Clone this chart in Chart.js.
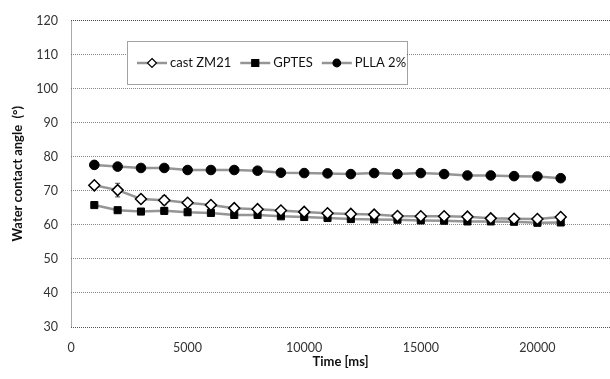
<!DOCTYPE html>
<html>
<head>
<meta charset="utf-8">
<script src="https://cdn.jsdelivr.net/npm/chart.js@4"></script>
<style>
  html, body { margin: 0; padding: 0; background: #fff; overflow: hidden; }
  #chart { display: block; }
</style>
</head>
<body>
<canvas id="chart" width="661" height="379"></canvas>
<script>
// Data
const times = [1000, 2000, 3000, 4000, 5000, 6000, 7000, 8000, 9000, 10000,
               11000, 12000, 13000, 14000, 15000, 16000, 17000, 18000, 19000, 20000, 21000];
const castZM21 = [71.6, 70.2, 67.6, 67.2, 66.5, 65.8, 64.9, 64.6, 64.2, 63.8,
                  63.4, 63.2, 63.0, 62.6, 62.5, 62.5, 62.4, 61.9, 61.8, 61.7, 62.3];
const castErr  = [0.5, 2.0, 1.1, 1.3, 0.8, 0.5, 0.4, 0.4, 0.3, 0.3,
                  0.3, 0.3, 0.3, 0.3, 0.3, 0.3, 0.3, 0.3, 0.3, 0.3, 0.3];
const gptes    = [65.8, 64.3, 63.9, 64.1, 63.7, 63.5, 62.9, 62.9, 62.5, 62.3,
                  62.0, 61.7, 61.6, 61.5, 61.3, 61.2, 61.0, 61.0, 60.9, 60.6, 60.7];
const gptesErr = [0.3, 0.4, 0.9, 1.0, 0.9, 0.7, 0.5, 0.5, 0.4, 0.4,
                  0.4, 0.4, 0.4, 0.4, 0.4, 0.4, 0.4, 0.4, 0.4, 0.4, 0.4];
const plla     = [77.6, 77.1, 76.7, 76.7, 76.1, 76.1, 76.1, 75.9, 75.3, 75.2,
                  75.1, 74.9, 75.2, 74.9, 75.2, 74.9, 74.5, 74.5, 74.3, 74.2, 73.7];
const yTicks = [30, 40, 50, 60, 70, 80, 90, 100, 110, 120];
const xTicks = [0, 5000, 10000, 15000, 20000];
const xTitle = "Time [ms]";

const FONT = "Lato, 'Open Sans', sans-serif";
const LINE = "#959595";

// error bars, drawn through the scales
const errorBars = {
  id: "errorBars",
  beforeDatasetsDraw(chart) {
    const ctx = chart.ctx;
    const xs = chart.scales.x, ys = chart.scales.y;
    ctx.save();
    ctx.strokeStyle = "#444";
    ctx.lineWidth = 1;
    chart.data.datasets.forEach(ds => {
      if (!ds.err) return;
      ds.data.forEach((p, i) => {
        const x = xs.getPixelForValue(p.x);
        const y1 = ys.getPixelForValue(p.y + ds.err[i]);
        const y2 = ys.getPixelForValue(p.y - ds.err[i]);
        ctx.beginPath();
        ctx.moveTo(x, y1); ctx.lineTo(x, y2);
        ctx.moveTo(x - 2.5, y1); ctx.lineTo(x + 2.5, y1);
        ctx.moveTo(x - 2.5, y2); ctx.lineTo(x + 2.5, y2);
        ctx.stroke();
      });
    });
    ctx.restore();
  }
};

// legend box inside the plot + x axis title (centred on the visible part)
const boxLegend = {
  id: "boxLegend",
  afterDraw(chart) {
    const ctx = chart.ctx;
    const area = chart.chartArea;
    ctx.save();
    // dotted axis lines
    ctx.strokeStyle = "#555";
    ctx.lineWidth = 1;
    ctx.setLineDash([1, 1]);
    ctx.beginPath();
    ctx.moveTo(Math.round(area.left) + 0.5, area.top);
    ctx.lineTo(Math.round(area.left) + 0.5, area.bottom);
    ctx.moveTo(area.left, Math.round(area.bottom) + 0.5);
    ctx.lineTo(area.right, Math.round(area.bottom) + 0.5);
    ctx.stroke();

    const left = 127, top = 41, right = 407, bottom = 84;
    ctx.fillStyle = "#fff";
    ctx.fillRect(left, top, right - left, bottom - top);
    ctx.strokeStyle = "#444";
    ctx.strokeRect(left + 0.5, top + 0.5, right - left, bottom - top);
    ctx.setLineDash([]);
    const cy = 63;
    let x = 137;
    ctx.font = "13px " + FONT;
    ctx.textBaseline = "middle";
    chart.data.datasets.forEach(ds => {
      ctx.strokeStyle = LINE;
      ctx.lineWidth = 2.5;
      ctx.beginPath();
      ctx.moveTo(x, cy); ctx.lineTo(x + 30, cy);
      ctx.stroke();
      ctx.fillStyle = ds.pointBackgroundColor;
      ctx.strokeStyle = "#000";
      ctx.lineWidth = 1.2;
      const mx = x + 15;
      ctx.beginPath();
      if (ds.pointStyle === "rectRot") {
        ctx.moveTo(mx, cy - 4.5); ctx.lineTo(mx + 4.5, cy); ctx.lineTo(mx, cy + 4.5); ctx.lineTo(mx - 4.5, cy); ctx.closePath();
      } else if (ds.pointStyle === "rect") {
        ctx.rect(mx - 3.5, cy - 3.5, 7, 7);
      } else {
        ctx.arc(mx, cy, 3.8, 0, Math.PI * 2);
      }
      ctx.fill(); ctx.stroke();
      ctx.fillStyle = "#111";
      ctx.textAlign = "left";
      ctx.fillText(ds.label, x + 33, cy);
      x += 33 + ctx.measureText(ds.label).width + 9;
    });
    ctx.font = "bold 13px " + FONT;
    ctx.textAlign = "center";
    ctx.fillStyle = "#111";
    ctx.fillText(xTitle, (area.left + 610) / 2, 362);
    ctx.restore();
  }
};

const pts = arr => arr.map((v, i) => ({ x: times[i], y: v }));

new Chart(document.getElementById("chart"), {
  type: "line",
  data: {
    datasets: [
      {
        label: "cast ZM21", data: pts(castZM21), err: castErr,
        borderColor: LINE, borderWidth: 2.5,
        pointStyle: "rectRot", pointRadius: 5.5, pointBorderWidth: 1.5,
        pointBackgroundColor: "#fff", pointBorderColor: "#000"
      },
      {
        label: "GPTES", data: pts(gptes), err: gptesErr,
        borderColor: LINE, borderWidth: 2.5,
        pointStyle: "rect", pointRadius: 5, pointBorderWidth: 1,
        pointBackgroundColor: "#000", pointBorderColor: "#000"
      },
      {
        label: "PLLA 2%", data: pts(plla),
        borderColor: LINE, borderWidth: 2.5,
        pointStyle: "circle", pointRadius: 4.8, pointBorderWidth: 1,
        pointBackgroundColor: "#000", pointBorderColor: "#000"
      }
    ]
  },
  options: {
    responsive: false,
    animation: false,
    layout: { padding: { top: 16, right: 0, left: 0, bottom: 0 } },
    plugins: { legend: { display: false }, tooltip: { enabled: false } },
    scales: {
      x: {
        type: "linear", min: 0, max: 25000,
        afterBuildTicks: s => { s.ticks = xTicks.map(v => ({ value: v })); },
        afterFit: s => { s.height = 52; },
        grid: { display: false, drawTicks: false },
        border: { display: false },
        ticks: { padding: 13, color: "#333", font: { family: FONT, size: 12.5 }, maxRotation: 0,
                 callback: v => String(v) }
      },
      y: {
        min: 30, max: 120,
        afterBuildTicks: s => { s.ticks = yTicks.map(v => ({ value: v })); },
        afterFit: s => { s.width = 71; },
        grid: { color: c => c.tick && c.tick.value === 120 ? "#444" : "#888", lineWidth: 1, drawTicks: false },
        border: { display: false, dash: [1, 1] },
        ticks: { padding: 13, color: "#333", font: { family: FONT, size: 12.5 },
                 callback: v => String(v) },
        title: {
          display: true, text: "Water contact angle  (°)", color: "#111",
          font: { family: FONT, size: 13, weight: "bold" },
          padding: { top: 10, bottom: 0 }
        }
      }
    }
  },
  plugins: [errorBars, boxLegend]
});
</script>
</body>
</html>
